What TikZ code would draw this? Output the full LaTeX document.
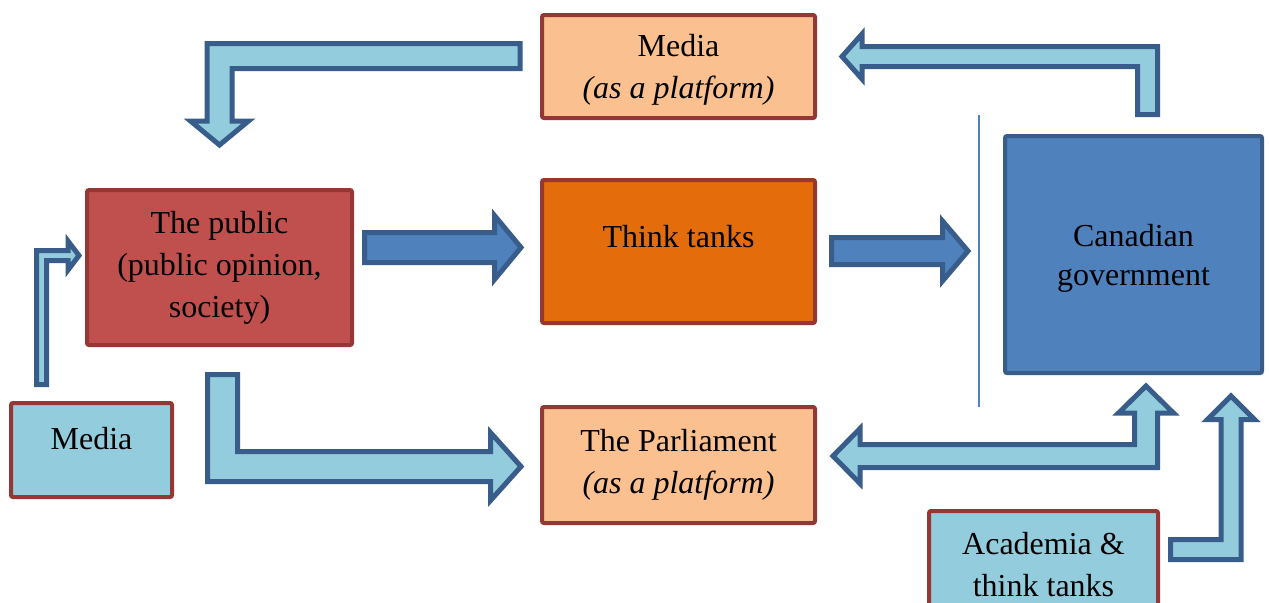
\documentclass[tikz,border=0pt]{standalone}
\usepackage{fontspec}
\setmainfont{Liberation Serif}
\usepackage{xcolor}
\usetikzlibrary{calc,positioning}

\definecolor{boxborder}{HTML}{953735}
\definecolor{paleorange}{HTML}{FAC090}
\definecolor{brickred}{HTML}{C0504D}
\definecolor{deeporange}{HTML}{E46C0A}
\definecolor{govblue}{HTML}{4F81BD}
\definecolor{govborder}{HTML}{385D8A}
\definecolor{lightblue}{HTML}{93CDDD}

\begin{document}
\begin{tikzpicture}[x=0.5pt,y=-0.5pt,
  box/.style={draw=boxborder,line width=2pt,rounded corners=1pt,align=center,inner sep=0pt,
    font=\fontsize{16}{21}\selectfont},
  platform/.style={box,fill=paleorange,minimum width=136.5pt},
  actor/.style={box,fill=brickred},
  source/.style={box,fill=lightblue},
  lightarrow/.style={draw=govborder,fill=lightblue,line width=2.5pt,line join=miter},
  darkarrow/.style={draw=govborder,fill=govblue,line width=2.5pt,line join=miter},
]
  \clip (0,0) rectangle (1269,602);

  % boxes
  \node[platform,minimum height=51.5pt,text depth=0.5pt] (mediaT) at (678.5,66.5)
    {Media\\\textit{(as a platform)}};
  \node[box,fill=deeporange,minimum width=136.5pt,minimum height=71.5pt,text depth=15pt]
    (tt) [below=29pt of mediaT] {Think tanks};
  \node[platform,minimum height=58pt] (parl) [below=40pt of tt]
    {The Parliament\\\textit{(as a platform)}};
  \node[actor,minimum width=132.5pt,minimum height=77.5pt] (pub) at (219.5,267.5)
    {The public\\(public opinion,\\society)};
  \node[box,draw=govborder,fill=govblue,minimum width=128.5pt,minimum height=118.5pt,
    font=\fontsize{16}{19.5}\selectfont,text depth=-2.5pt] (gov) at (1133.5,254.5)
    {Canadian\\government};
  \node[source,minimum width=80.5pt,minimum height=47pt,text depth=12pt] (mediaL)
    at (91.5,450) {Media};
  \node[source,minimum width=114.5pt,minimum height=54pt] (acad) at (1043.5,565)
    {Academia \&\\think tanks};

  % divider left of the government
  \draw[govblue,line width=1pt] ($(gov.north west)+(-24,-19)$) -- ($(gov.south west)+(-24,32)$);

  % arrow ends
  \coordinate (a1s) at ($(mediaT.west)+(-20,-10.5)$);
  \coordinate (a1e) at ($(pub.north)+(0,-43)$);
  \coordinate (b1s) at ($(gov.north)+(14,-19.5)$);
  \coordinate (b1e) at ($(mediaT.east)+(25,-10)$);
  \coordinate (c1s) at ($(mediaL.north)+(-50,-16.5)$);
  \coordinate (c1e) at ($(pub.west)+(-6,-12)$);
  \coordinate (d1s) at ($(pub.east)+(10.5,-20)$);
  \coordinate (d1e) at ($(tt.west)+(-19,-4)$);
  \coordinate (e1s) at ($(tt.east)+(14.5,-0.5)$);
  \coordinate (e1e) at ($(gov.west)+(-35,-3.5)$);
  \coordinate (f1s) at ($(pub.south)+(3,27.5)$);
  \coordinate (f1e) at ($(parl.west)+(-19,1.5)$);
  \coordinate (g1e) at ($(parl.east)+(16,-9)$);
  \coordinate (g2e) at ($(gov.south)+(12.5,11)$);
  \coordinate (h1s) at ($(acad.east)+(10.5,-15.5)$);
  \coordinate (h1e) at ($(gov.south east)+(-33,21)$);

  % media -> public
  \draw[lightarrow] ($(a1s)+(0,-12.5)$) -- ($(a1e |- a1s)+(-12.5,-12.5)$)
    -- ($(a1e)+(-12.5,-24)$) -- ($(a1e)+(-29,-24)$) -- (a1e)
    -- ($(a1e)+(29,-24)$) -- ($(a1e)+(12.5,-24)$)
    -- ($(a1e |- a1s)+(12.5,12.5)$) -- ($(a1s)+(0,12.5)$) -- cycle;

  % government -> media
  \draw[lightarrow] ($(b1s)+(-10,0)$) -- ($(b1s |- b1e)+(-10,10)$)
    -- ($(b1e)+(20,10)$) -- ($(b1e)+(20,22.5)$) -- (b1e)
    -- ($(b1e)+(20,-22.5)$) -- ($(b1e)+(20,-10)$)
    -- ($(b1s |- b1e)+(10,-10)$) -- ($(b1s)+(10,0)$) -- cycle;

  % media -> public (thin)
  \draw[lightarrow] ($(c1s)+(-5,0)$) -- ($(c1s |- c1e)+(-5,-5)$)
    -- ($(c1e)+(-11,-5)$) -- ($(c1e)+(-11,-14.5)$) -- (c1e)
    -- ($(c1e)+(-11,14.5)$) -- ($(c1e)+(-11,5)$)
    -- ($(c1s |- c1e)+(5,5)$) -- ($(c1s)+(5,0)$) -- cycle;

  % public -> think tanks
  \draw[darkarrow] ($(d1s)+(0,-15)$) -- ($(d1e)+(-26.5,-15)$)
    -- ($(d1e)+(-26.5,-32)$) -- (d1e) -- ($(d1e)+(-26.5,32)$)
    -- ($(d1e)+(-26.5,15)$) -- ($(d1s)+(0,15)$) -- cycle;

  % think tanks -> government
  \draw[darkarrow] ($(e1s)+(0,-13.5)$) -- ($(e1e)+(-25.5,-13.5)$)
    -- ($(e1e)+(-25.5,-30)$) -- (e1e) -- ($(e1e)+(-25.5,30)$)
    -- ($(e1e)+(-25.5,13.5)$) -- ($(e1s)+(0,13.5)$) -- cycle;

  % public -> parliament
  \draw[lightarrow] ($(f1s)+(-15,0)$) -- ($(f1s |- f1e)+(-15,15)$)
    -- ($(f1e)+(-30.5,15)$) -- ($(f1e)+(-30.5,34)$) -- (f1e)
    -- ($(f1e)+(-30.5,-34)$) -- ($(f1e)+(-30.5,-15)$)
    -- ($(f1s |- f1e)+(15,-15)$) -- ($(f1s)+(15,0)$) -- cycle;

  % parliament <-> government
  \draw[lightarrow] (g1e) -- ($(g1e)+(27,-27.5)$) -- ($(g1e)+(27,-11.5)$)
    -- ($(g2e |- g1e)+(-11.5,-11.5)$) -- ($(g2e)+(-11.5,27)$)
    -- ($(g2e)+(-27.5,27)$) -- (g2e) -- ($(g2e)+(27.5,27)$)
    -- ($(g2e)+(11.5,27)$) -- ($(g2e |- g1e)+(11.5,11.5)$)
    -- ($(g1e)+(27,11.5)$) -- ($(g1e)+(27,27.5)$) -- cycle;

  % academia -> government
  \draw[lightarrow] ($(h1s)+(0,-10)$) -- ($(h1e |- h1s)+(-10,-10)$)
    -- ($(h1e)+(-10,23.5)$) -- ($(h1e)+(-23.5,23.5)$) -- (h1e)
    -- ($(h1e)+(23.5,23.5)$) -- ($(h1e)+(10,23.5)$)
    -- ($(h1e |- h1s)+(10,10)$) -- ($(h1s)+(0,10)$) -- cycle;
\end{tikzpicture}
\end{document}
